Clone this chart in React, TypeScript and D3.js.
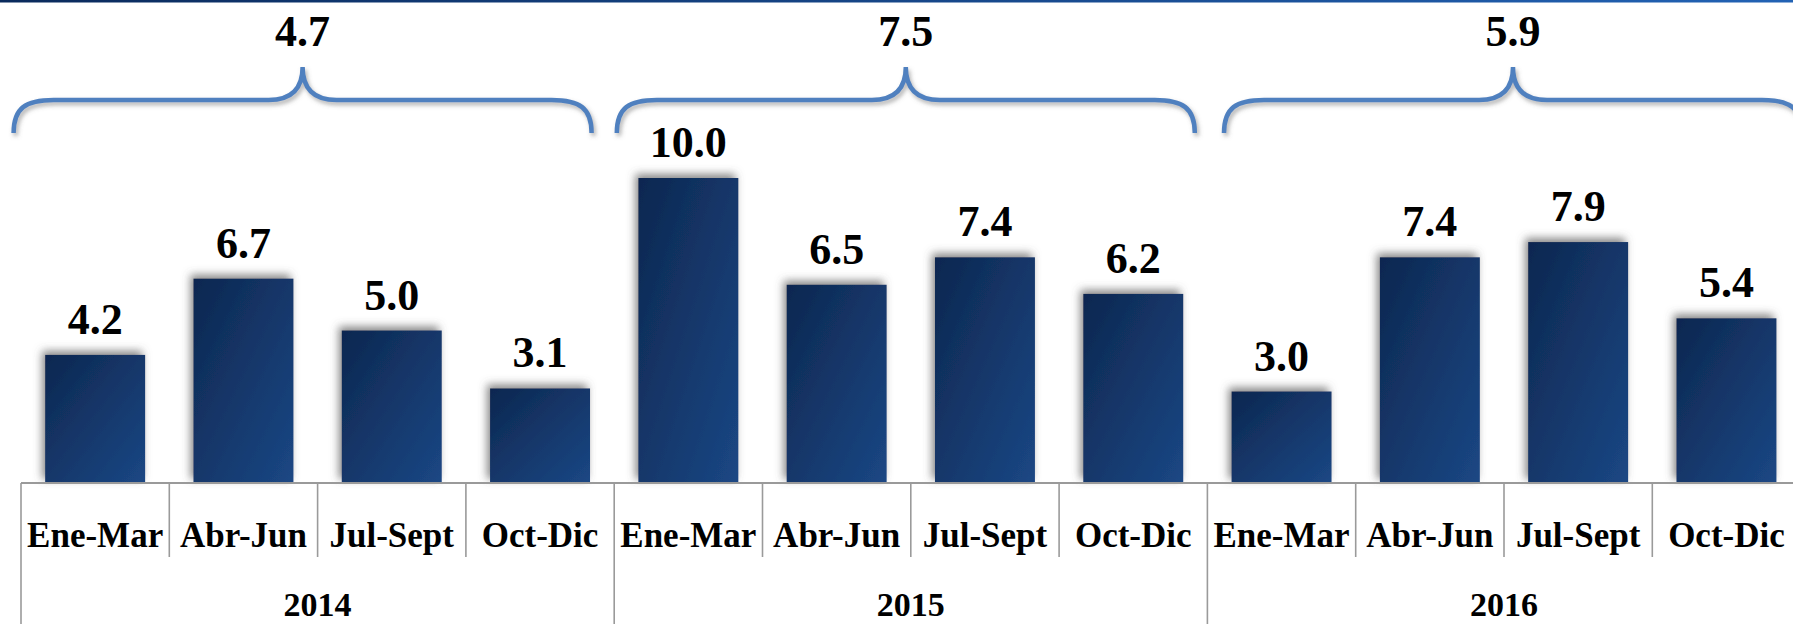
import React from "react";
import * as d3 from "d3";

const quarters = ["Ene-Mar", "Abr-Jun", "Jul-Sept", "Oct-Dic"];
const years = ["2014", "2015", "2016"];
const values2014 = [4.2, 6.7, 5.0, 3.1];
const values2015 = [10.0, 6.5, 7.4, 6.2];
const values2016 = [3.0, 7.4, 7.9, 5.4];
const annualAverage = [4.7, 7.5, 5.9];

const W = 1793;
const H = 624;
const FONT = "'Liberation Serif', 'Times New Roman', serif";

export default function App() {
  const seriesByYear = [values2014, values2015, values2016];
  const rows = years.flatMap((yr, gi) =>
    quarters.map((q, qi) => ({ key: `${yr}-${q}`, year: yr, quarter: q, value: seriesByYear[gi][qi] }))
  );

  const x0 = 21;
  const step = 148.3;
  const x1 = x0 + step * rows.length;
  const pad = 0.326;
  const x = d3
    .scaleBand<string>()
    .domain(rows.map((r) => r.key))
    .range([x0, x1])
    .paddingInner(pad)
    .paddingOuter(pad / 2);
  const xCat = d3.scaleBand<string>().domain(rows.map((r) => r.key)).range([x0, x1]).padding(0);
  const xYear = d3.scaleBand<string>().domain(years).range([x0, x1]).padding(0);
  const y = d3.scaleLinear().domain([0, 10]).range([483, 178]);

  const baseY = y(0);
  const tickBottom = 557;
  // hand-placed brace shifts relative to each year's centre, as in the reference
  const braceShift = [-15, -5, 9];

  const bracePath = (cx: number) => {
    const half = 289;
    const l = cx - half;
    const r = cx + half;
    const yEnd = 133;
    const yMid = 100;
    const yTip = 67;
    const p = d3.path();
    p.moveTo(l, yEnd);
    p.bezierCurveTo(l, yMid + 8, l + 12, yMid, l + 40, yMid);
    p.lineTo(cx - 34, yMid);
    p.bezierCurveTo(cx - 12, yMid, cx, yMid - 10, cx, yTip);
    p.bezierCurveTo(cx, yMid - 10, cx + 12, yMid, cx + 34, yMid);
    p.lineTo(r - 40, yMid);
    p.bezierCurveTo(r - 12, yMid, r, yMid + 8, r, yEnd);
    return p.toString();
  };

  return (
    <svg
      width={W}
      height={H}
      style={{ position: "absolute", left: 0, top: 0, background: "#fff", overflow: "hidden" }}
    >
      <defs>
        <linearGradient id="barGrad" x1="0" y1="0" x2="1" y2="1">
          <stop offset="0%" stopColor="#0d2750" />
          <stop offset="100%" stopColor="#1b4784" />
        </linearGradient>
        <linearGradient id="topLine" x1="0" y1="0" x2="1" y2="0">
          <stop offset="0%" stopColor="#0a2a5c" />
          <stop offset="100%" stopColor="#2262b4" />
        </linearGradient>
        <filter id="barShadow" x="-30%" y="-30%" width="160%" height="160%">
          <feDropShadow dx="-3" dy="-4" stdDeviation="4" floodColor="#555" floodOpacity="0.7" />
        </filter>
        <filter id="braceShadow" x="-5%" y="-50%" width="110%" height="200%">
          <feDropShadow dx="2" dy="3" stdDeviation="2" floodColor="#666" floodOpacity="0.5" />
        </filter>
      </defs>

      <rect x={0} y={0} width={W} height={2.5} fill="url(#topLine)" />

      {/* braces and annual averages */}
      {years.map((yr, i) => {
        const cx = (xYear(yr) as number) + xYear.bandwidth() / 2 + braceShift[i];
        return (
          <g key={yr}>
            <path
              d={bracePath(cx)}
              fill="none"
              stroke="#5080bf"
              strokeWidth={4.5}
              strokeLinecap="butt"
              filter="url(#braceShadow)"
            />
            <text
              x={cx}
              y={46}
              textAnchor="middle"
              fontFamily={FONT}
              fontWeight="bold"
              fontSize={44}
              fill="#000"
            >
              {annualAverage[i].toFixed(1)}
            </text>
          </g>
        );
      })}

      {/* bars */}
      {rows.map((r) => (
        <rect
          key={r.key}
          x={x(r.key)}
          y={y(r.value)}
          width={x.bandwidth()}
          height={baseY - y(r.value)}
          fill="url(#barGrad)"
          filter="url(#barShadow)"
        />
      ))}

      {/* value labels */}
      {rows.map((r) => (
        <text
          key={r.key + "-v"}
          x={(x(r.key) as number) + x.bandwidth() / 2}
          y={y(r.value) - 21}
          textAnchor="middle"
          fontFamily={FONT}
          fontWeight="bold"
          fontSize={44}
          fill="#000"
        >
          {r.value.toFixed(1)}
        </text>
      ))}

      {/* axis line */}
      <line x1={x0} x2={W} y1={baseY} y2={baseY} stroke="#9a9a9a" strokeWidth={2} />

      {/* category dividers */}
      {rows.map((r, i) => {
        const xx = xCat(r.key) as number;
        const isGroup = i % 4 === 0;
        return (
          <line
            key={r.key + "-d"}
            x1={xx}
            x2={xx}
            y1={baseY}
            y2={isGroup ? H : tickBottom}
            stroke="#9a9a9a"
            strokeWidth={1.6}
          />
        );
      })}

      {/* category labels */}
      {rows.map((r) => (
        <text
          key={r.key + "-c"}
          x={(xCat(r.key) as number) + xCat.bandwidth() / 2}
          y={547}
          textAnchor="middle"
          fontFamily={FONT}
          fontWeight="bold"
          fontSize={35}
          fill="#000"
        >
          {r.quarter}
        </text>
      ))}

      {/* year labels */}
      {years.map((yr) => (
        <text
          key={yr + "-y"}
          x={(xYear(yr) as number) + xYear.bandwidth() / 2}
          y={616}
          textAnchor="middle"
          fontFamily={FONT}
          fontWeight="bold"
          fontSize={34}
          fill="#000"
        >
          {yr}
        </text>
      ))}
    </svg>
  );
}
